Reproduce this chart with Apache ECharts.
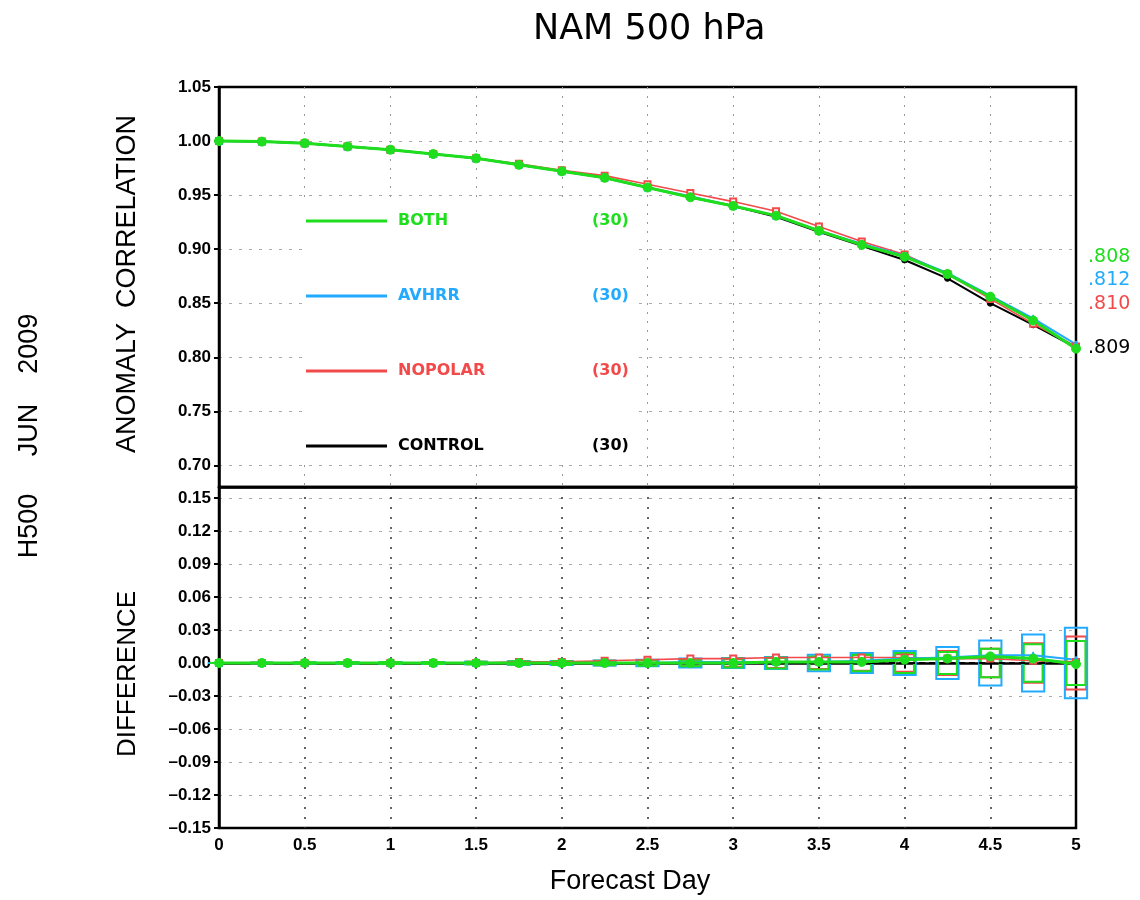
<!DOCTYPE html>
<html><head><meta charset="utf-8">
<script src="https://cdn.jsdelivr.net/npm/echarts@6/dist/echarts.min.js"></script>
<style>html,body{margin:0;padding:0;background:#fff}#c{width:1140px;height:900px}</style>
</head><body><div id="c"></div>
<script>
// ---------------- data ----------------
const days = [0,0.25,0.5,0.75,1,1.25,1.5,1.75,2,2.25,2.5,2.75,3,3.25,3.5,3.75,4,4.25,4.5,4.75,5];
const xTicks = [0,0.5,1,1.5,2,2.5,3,3.5,4,4.5,5];
const acTicks = [0.70,0.75,0.80,0.85,0.90,0.95,1.00,1.05];
const diffTicks = [-0.15,-0.12,-0.09,-0.06,-0.03,0,0.03,0.06,0.09,0.12,0.15];
const expNames = ['BOTH','AVHRR','NOPOLAR','CONTROL'];
const caseCounts = [30,30,30,30];

const acBoth    = [1.000,0.9995,0.998,0.995,0.992,0.988,0.984,0.978,0.972,0.966,0.957,0.948,0.940,0.931,0.917,0.904,0.893,0.877,0.856,0.834,0.808];
const acAvhrr   = [1.000,0.9995,0.998,0.995,0.992,0.988,0.984,0.978,0.972,0.966,0.957,0.949,0.940,0.931,0.917,0.905,0.894,0.878,0.857,0.836,0.812];
const acNopolar = [1.000,0.9995,0.998,0.995,0.992,0.988,0.984,0.979,0.973,0.968,0.960,0.952,0.944,0.935,0.921,0.907,0.895,0.877,0.854,0.831,0.810];
const acControl = [1.000,0.9995,0.998,0.995,0.992,0.988,0.984,0.978,0.972,0.966,0.957,0.948,0.940,0.930,0.916,0.903,0.890,0.873,0.850,0.830,0.809];

const diffBoth    = [0,0,0,0,0,0,0,0,0,0,0,0,0,0.001,0.001,0.001,0.003,0.004,0.006,0.004,-0.001];
const diffAvhrr   = [0,0,0,0,0,0,0,0,0,0,0,0.001,0.001,0.001,0.001,0.002,0.004,0.005,0.007,0.007,0.003];
const diffNopolar = [0,0,0,0,0,0,0,0.001,0.001,0.002,0.003,0.004,0.004,0.005,0.005,0.005,0.005,0.004,0.004,0.002,0.001];
const diffControl = [0,0,0,0,0,0,0,0,0,0,0,0,0,0,0,0,0,0,0,0,0];

// half-height of significance boxes (centred on zero)
const ciBoth    = [0,0.0003,0.0005,0.0007,0.0009,0.001,0.0012,0.0015,0.0018,0.002,0.0025,0.003,0.004,0.005,0.006,0.0075,0.009,0.010,0.013,0.017,0.020];
const ciAvhrr   = [0,0.0003,0.0005,0.0007,0.0009,0.001,0.0012,0.0015,0.0018,0.0022,0.003,0.004,0.0045,0.0055,0.0075,0.009,0.011,0.0145,0.0205,0.026,0.032];
const ciNopolar = [0,0.0003,0.0005,0.0007,0.0009,0.001,0.0012,0.0015,0.0018,0.002,0.0025,0.003,0.0035,0.0045,0.0055,0.007,0.008,0.011,0.013,0.018,0.024];

// ---------------- styles ----------------
const colors = ['#1ede1e','#22aaff','#f24a4a','#000000'];
const lineW = [3,2,1.6,2];
const symbols = ['circle','triangle','emptyRect','circle'];
const symSizes = [9,7,6,6];
const endOffsets = [-92,-64,-42,1];
const boxHalfW = [0.055,0.065,0.06];
const acData = [acBoth, acAvhrr, acNopolar, acControl];
const diffData = [diffBoth, diffAvhrr, diffNopolar, diffControl];
const ciData = [ciBoth, ciAvhrr, ciNopolar];

const tickFont = {fontFamily:'Liberation Sans', fontWeight:'bold', fontSize:17, color:'#000'};
const fmtAC = v => v.toFixed(2);
const fmtDiff = v => (v < -1e-9 ? '\u2013' : '') + Math.abs(v).toFixed(2);

const series = [];
// draw order: CONTROL, NOPOLAR, AVHRR, BOTH (BOTH on top)
[3,2,1,0].forEach(i => {
  series.push({
    type:'line', name: expNames[i], xAxisIndex:0, yAxisIndex:0,
    data: days.map((d,j)=>[d, acData[i][j]]),
    color: colors[i], lineStyle:{width: lineW[i], color: colors[i]},
    symbol: symbols[i], symbolSize: symSizes[i],
    itemStyle:{color: colors[i], borderColor: colors[i]},
    endLabel:{show:true, distance:12, offset:[0, endOffsets[i]],
      formatter: p => p.value[1].toFixed(3).replace(/^0/, ''),
      color: colors[i], fontFamily:'DejaVu Sans', fontSize:19},
    silent:true, z: 3
  });
  if (i < 3) {
    const hw = boxHalfW[i], col = colors[i];
    series.push({
      type:'custom', name: expNames[i], xAxisIndex:1, yAxisIndex:1, clip:false,
      data: days.map((d,j)=>[d, ciData[i][j]]),
      renderItem: (params, api) => {
        const x = api.value(0), h = api.value(1);
        const p1 = api.coord([x - hw, h]);
        const p2 = api.coord([x + hw, -h]);
        return {type:'rect', shape:{x:p1[0], y:p1[1], width:p2[0]-p1[0], height:p2[1]-p1[1]},
          style:{fill:null, stroke: col, lineWidth: 2}};
      },
      silent:true, z: 2
    });
  }
  series.push({
    type:'line', name: expNames[i], xAxisIndex:1, yAxisIndex:1,
    data: days.map((d,j)=>[d, diffData[i][j]]),
    color: colors[i], lineStyle:{width: lineW[i], color: colors[i], type: i===3 ? [6,4] : 'solid'},
    symbol: i===3 ? 'none' : symbols[i], symbolSize: symSizes[i],
    itemStyle:{color: colors[i], borderColor: colors[i]},
    silent:true, z: 3
  });
});

const option = {
  animation:false,
  backgroundColor:'#fff',
  title:{text:'NAM 500 hPa', left:533, top:12, padding:0,
    textStyle:{fontFamily:'DejaVu Sans', fontWeight:'normal', fontSize:35, color:'#000'}},
  legend:{
    data: expNames.map((n,i)=>({name:n, textStyle:{color: colors[i]}})),
    orient:'vertical', left:304, top:203, padding:[10,10,8,2],
    itemGap:59, itemWidth:81, itemHeight:3, icon:'rect', selectedMode:false,
    backgroundColor:'#fff',
    formatter: name => '{n|' + name + '}{c|(' + caseCounts[expNames.indexOf(name)] + ')}',
    textStyle:{fontFamily:'DejaVu Sans', fontWeight:'bold', fontSize:16, lineHeight:16,
      rich:{n:{width:194, padding:[0,0,0,6], fontFamily:'DejaVu Sans', fontWeight:'bold', fontSize:16},
            c:{fontFamily:'DejaVu Sans', fontWeight:'bold', fontSize:16}}}
  },
  grid:[
    {left:219, right:64, top:87, height:400, show:true, borderColor:'#000', borderWidth:2.5, backgroundColor:'transparent'},
    {left:219, right:64, top:487, height:341, show:true, borderColor:'#000', borderWidth:2.5, backgroundColor:'transparent'}
  ],
  xAxis:[
    {gridIndex:0, type:'value', min:0, max:5, interval:0.5,
      axisLine:{show:true, lineStyle:{color:'#000', width:2.5}},
      axisTick:{show:false}, axisLabel:{show:false},
      splitLine:{show:true, showMinLine:false, showMaxLine:false, lineStyle:{color:'#999', width:1, type:[2,7]}}},
    {gridIndex:1, type:'value', min:0, max:5, interval:0.5,
      axisLine:{show:true, lineStyle:{color:'#000', width:2.5}},
      axisTick:{show:true, length:5, lineStyle:{color:'#000', width:2}},
      axisLabel:{show:true, margin:9, ...tickFont},
      splitLine:{show:true, showMinLine:false, showMaxLine:false, lineStyle:{color:'#333', width:1.5, type:[2,8]}}}
  ],
  yAxis:[
    {gridIndex:0, type:'value', min:0.68, max:1.05,
      axisLine:{show:true, lineStyle:{color:'#000', width:2.5}},
      axisTick:{show:true, length:5, customValues: acTicks, lineStyle:{color:'#000', width:2}},
      axisLabel:{show:true, margin:8, customValues: acTicks, formatter: fmtAC, ...tickFont},
      splitLine:{show:true, showMaxLine:false, lineStyle:{color:'#aaa', width:1, type:[3,7]}}},
    {gridIndex:1, type:'value', min:-0.15, max:0.16,
      axisLine:{show:true, lineStyle:{color:'#000', width:2.5}},
      axisTick:{show:true, length:5, customValues: diffTicks, lineStyle:{color:'#000', width:2}},
      axisLabel:{show:true, margin:8, customValues: diffTicks, formatter: fmtDiff, ...tickFont},
      splitLine:{show:true, showMinLine:false, lineStyle:{color:'#aaa', width:1, type:[3,7]}}}
  ],
  graphic:[
    {type:'text', x:128, y:284, rotation:Math.PI/2,
      style:{text:'ANOMALY  CORRELATION', fontFamily:'Liberation Sans', fontSize:27, fill:'#000', align:'center', verticalAlign:'middle'}},
    {type:'text', x:128, y:674, rotation:Math.PI/2,
      style:{text:'DIFFERENCE', fontFamily:'Liberation Sans', fontSize:26, fill:'#000', align:'center', verticalAlign:'middle'}},
    {type:'text', x:30, y:436, rotation:Math.PI/2,
      style:{text:'H500     JUN    2009', fontFamily:'Liberation Sans', fontSize:27, fill:'#000', align:'center', verticalAlign:'middle'}},
    {type:'text', x:630, y:882,
      style:{text:'Forecast Day', fontFamily:'Liberation Sans', fontSize:27, fill:'#000', align:'center', verticalAlign:'middle'}}
  ],
  series: series
};
const chart = echarts.init(document.getElementById('c'), null, {renderer:'canvas'});
chart.setOption(option);
</script>
</body></html>
